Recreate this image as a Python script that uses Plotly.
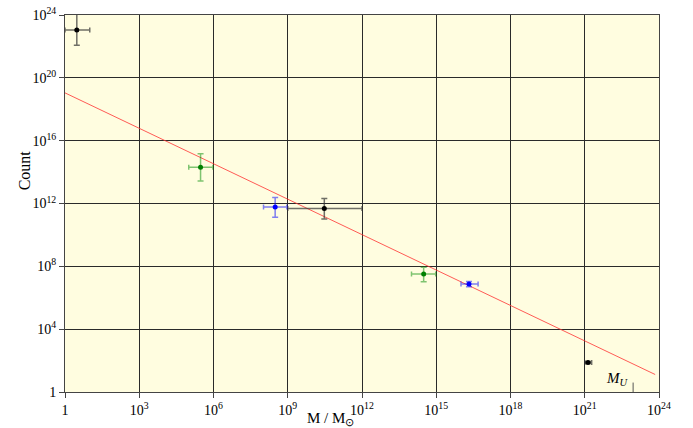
import numpy as np
import plotly.graph_objects as go

# ---- data ----
black_x = [3.0, 3.0e10, 1.35e21]
black_x_lo = [1.0, 1.0e9, 1.0e21]
black_x_hi = [10.0, 1.0e12, 1.9e21]
black_y = [1.1e23, 4.8e11, 76.0]
black_y_lo = [1.2e22, 1.05e11, 66.0]
black_y_hi = [1.15e24, 2.1e12, 87.0]

green_x = [3.0e5, 3.1e14]
green_x_lo = [1.0e5, 1.0e14]
green_x_hi = [9.5e5, 9.5e14]
green_y = [2.0e14, 3.2e7]
green_y_lo = [2.7e13, 1.05e7]
green_y_hi = [1.45e15, 8.7e7]

blue_x = [3.1e8, 2.1e16]
blue_x_lo = [1.05e8, 1.0e16]
blue_x_hi = [9.2e8, 4.9e16]
blue_y = [6.0e11, 7.4e6]
blue_y_lo = [1.35e11, 5.0e6]
blue_y_hi = [2.4e12, 1.1e7]

fit_x = [1.0, 7.0e23]
fit_y = [1.1e19, 1.3e1]

m_universe = 9.0e22

x_tickvals = [1, 1e3, 1e6, 1e9, 1e12, 1e15, 1e18, 1e21, 1e24]
x_ticktext = ["1", "10<sup>3</sup>", "10<sup>6</sup>", "10<sup>9</sup>", "10<sup>12</sup>",
              "10<sup>15</sup>", "10<sup>18</sup>", "10<sup>21</sup>", "10<sup>24</sup>"]
y_tickvals = [1, 1e4, 1e8, 1e12, 1e16, 1e20, 1e24]
y_ticktext = ["1", "10<sup>4</sup>", "10<sup>8</sup>", "10<sup>12</sup>", "10<sup>16</sup>",
              "10<sup>20</sup>", "10<sup>24</sup>"]

FONT = "Liberation Serif"


def err(v, lo, hi):
    v = np.array(v); lo = np.array(lo); hi = np.array(hi)
    return (hi - v).tolist(), (v - lo).tolist()


fig = go.Figure()

fig.add_trace(go.Scatter(x=fit_x, y=fit_y, mode="lines",
                         line=dict(color="rgba(255,50,50,0.8)", width=1),
                         hoverinfo="skip", showlegend=False))


def add_series(xs, xlo, xhi, ys, ylo, yhi, mcol, ecol):
    ex_p, ex_m = err(xs, xlo, xhi)
    ey_p, ey_m = err(ys, ylo, yhi)
    fig.add_trace(go.Scatter(
        x=xs, y=ys, mode="markers",
        marker=dict(color=mcol, size=5, symbol="circle"),
        error_x=dict(type="data", symmetric=False, array=ex_p, arrayminus=ex_m,
                     color=ecol, thickness=1.5, width=2.5),
        error_y=dict(type="data", symmetric=False, array=ey_p, arrayminus=ey_m,
                     color=ecol, thickness=1.5, width=3),
        showlegend=False))


add_series(black_x, black_x_lo, black_x_hi, black_y, black_y_lo, black_y_hi,
           "black", "rgba(50,50,50,0.7)")
add_series(green_x, green_x_lo, green_x_hi, green_y, green_y_lo, green_y_hi,
           "green", "rgba(0,140,0,0.5)")
add_series(blue_x, blue_x_lo, blue_x_hi, blue_y, blue_y_lo, blue_y_hi,
           "blue", "rgba(0,0,255,0.5)")

axis_common = dict(
    type="log", range=[0, 24], showgrid=True, gridcolor="#2a2a2a", gridwidth=1,
    zeroline=False, showline=True, linecolor="#444", linewidth=1, mirror=True,
    ticks="outside", ticklen=5, tickcolor="#444", automargin=False,
    tickfont=dict(family=FONT, size=14, color="black"),
)

fig.update_xaxes(**axis_common, tickvals=x_tickvals, ticktext=x_ticktext)
fig.update_yaxes(**axis_common, tickvals=y_tickvals, ticktext=y_ticktext)

# M_U marker
fig.add_shape(type="line", xref="x", yref="paper", x0=m_universe, x1=m_universe,
              y0=0, y1=0.025, line=dict(color="#555", width=1))
fig.add_annotation(x=np.log10(m_universe), xref="x", yref="paper", y=0.005,
                   text="<i>M<sub>U</sub></i>", showarrow=False,
                   xanchor="right", yanchor="bottom", xshift=-2,
                   font=dict(family=FONT, size=15, color="black"))

# axis titles
fig.add_annotation(text="M / M<sub>⊙</sub>", xref="paper", yref="paper",
                   x=0.447, y=-0.072, showarrow=False, xanchor="center", yanchor="middle",
                   font=dict(family=FONT, size=15, color="black"))
fig.add_annotation(text="Count", xref="paper", yref="paper",
                   x=-0.069, y=0.588, showarrow=False, textangle=-90,
                   xanchor="center", yanchor="middle",
                   font=dict(family=FONT, size=16, color="black"))

fig.update_layout(
    width=693, height=428,
    margin=dict(l=65, r=34, t=15, b=36, autoexpand=False),
    paper_bgcolor="white", plot_bgcolor="#FFFDE0",
    font=dict(family=FONT, color="black"),
    showlegend=False,
)

fig.write_html("out.html", config={"displayModeBar": False},
               post_script="document.body.style.margin='0px';")
